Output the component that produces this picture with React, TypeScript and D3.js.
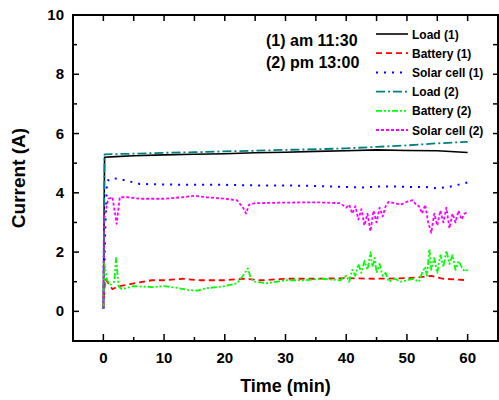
import React from 'react';
import * as d3 from 'd3';

// [time (min), current (A)]
const load1: [number, number][] = [
  [0, 0.1], [0.2, 5.2], [2, 5.22], [5, 5.25], [10, 5.28], [15, 5.3], [20, 5.32], [25, 5.35],
  [30, 5.37], [35, 5.4], [40, 5.42], [45, 5.45], [50, 5.43], [55, 5.42], [60, 5.36],
];
const battery1: [number, number][] = [
  [0, 0.1], [0.3, 1.1], [1, 0.9], [1.5, 0.75], [2.5, 0.85], [4, 0.9], [6, 0.98], [8, 1.05],
  [10, 1.05], [13, 1.1], [16, 1.05], [20, 1.05], [23, 1.1], [26, 1.05], [30, 1.1], [35, 1.1],
  [40, 1.12], [45, 1.1], [50, 1.12], [52, 1.15], [54, 1.2], [56, 1.1], [58, 1.08], [60, 1.05],
];
const solar1: [number, number][] = [
  [0, 0.1], [0.3, 2.7], [0.6, 4.4], [1.5, 4.5], [3, 4.45], [5, 4.35], [6, 4.3], [10, 4.28],
  [15, 4.27], [20, 4.27], [25, 4.25], [30, 4.25], [35, 4.23], [40, 4.2], [43, 4.18], [46, 4.22],
  [50, 4.2], [53, 4.2], [55, 4.15], [57, 4.2], [59, 4.3], [60, 4.35],
];
const load2: [number, number][] = [
  [0, 0.1], [0.2, 5.3], [5, 5.32], [10, 5.35], [15, 5.37], [20, 5.4], [25, 5.42], [30, 5.45],
  [35, 5.47], [40, 5.5], [45, 5.55], [50, 5.6], [55, 5.67], [60, 5.72],
];
const battery2: [number, number][] = [
  [0, 0.1], [0.1, 1.7], [0.6, 1.05], [1.2, 0.9], [1.8, 1.0], [2.1, 1.8], [2.5, 0.85], [3, 0.75],
  [5, 0.85], [8, 0.82], [10, 0.85], [12, 0.8], [14, 0.72], [15.5, 0.7], [17, 0.78], [20, 0.85],
  [22, 0.95], [23, 1.2], [23.8, 1.45], [24.3, 1.1], [25, 1.0], [27, 0.95], [30, 1.05], [33, 1.05],
  [36, 1.1], [39, 1.05], [40, 1.2], [40.5, 1.0], [41, 1.4], [41.5, 1.2], [42, 1.6], [42.5, 1.3],
  [43, 1.7], [43.5, 1.4], [44, 2.0], [44.3, 1.5], [44.7, 1.8], [45, 1.3], [45.5, 1.6], [46, 1.2],
  [46.5, 1.3], [47, 1.0], [48, 1.1], [49, 1.0], [50, 1.05], [51, 1.1], [52, 1.0], [52.5, 1.3],
  [53, 1.5], [53.3, 1.2], [53.7, 2.1], [54, 1.4], [54.5, 1.8], [55, 1.3], [55.5, 1.9], [56, 1.5],
  [56.5, 2.05], [57, 1.6], [57.5, 1.9], [58, 1.4], [58.5, 1.7], [59, 1.5], [59.5, 1.35], [60, 1.4],
];
const solar2: [number, number][] = [
  [0, 0.1], [0.1, 3.1], [0.8, 3.8], [1.5, 3.85], [2.2, 2.95], [2.7, 3.85], [4, 3.85], [6, 3.8],
  [10, 3.8], [13, 3.85], [15, 3.9], [17, 3.85], [20, 3.8], [22, 3.75], [23, 3.5], [23.5, 3.3],
  [24, 3.6], [25, 3.65], [30, 3.67], [35, 3.68], [39, 3.65], [40, 3.5], [40.5, 3.6], [41, 3.3],
  [41.5, 3.55], [42, 3.1], [42.5, 3.45], [43, 2.9], [43.5, 3.3], [44, 2.7], [44.5, 3.4], [45, 3.0],
  [45.5, 3.5], [46, 3.2], [46.5, 3.55], [47, 3.7], [48, 3.65], [49, 3.6], [50, 3.7], [51, 3.75],
  [51.5, 3.6], [52, 3.55], [52.5, 3.3], [53, 3.6], [53.5, 3.0], [54, 2.65], [54.5, 3.3], [55, 2.9],
  [55.5, 3.4], [56, 3.0], [56.5, 3.5], [57, 2.8], [57.5, 3.3], [58, 3.0], [58.5, 3.4], [59, 3.1],
  [59.5, 3.3], [60, 3.35],
];

const seriesNames = ['Load (1)', 'Battery (1)', 'Solar cell (1)', 'Load (2)', 'Battery (2)', 'Solar cell (2)'];
const seriesData = [load1, battery1, solar1, load2, battery2, solar2];
const seriesColors = ['#000000', '#ff0000', '#0000ff', '#008080', '#00ff00', '#ff00ff'];
const seriesDash = ['none', '6,4', '2,6', '9,3,2,3', '6,2,2,2,2,2', '3,2'];
const seriesWidth = [1.6, 1.8, 2, 1.8, 1.8, 1.8];

const xTicks = [0, 10, 20, 30, 40, 50, 60];
const yTicks = [0, 2, 4, 6, 8, 10];
const notes = ['(1) am 11:30', '(2) pm 13:00'];

const W = 499;
const H = 400;
const left = 73, right = 498, top = 15, bottom = 341;
const font = 'Liberation Sans, Arial, sans-serif';

export default function App() {
  const x = d3.scaleLinear().domain([-5, 65]).range([left, right]);
  const y = d3.scaleLinear().domain([-1, 10]).range([bottom, top]);
  const line = d3.line<[number, number]>().x(d => x(d[0])).y(d => y(d[1]));

  const xMinor = d3.range(-5, 66, 5);
  const yMinor = d3.range(-1, 11, 1);

  return (
    <svg width={W} height={H} style={{ position: 'absolute', left: 0, top: 0, background: '#fff' }}>
      {/* data */}
      {seriesData.map((d, i) => (
        <path key={i} d={line(d) || ''} fill="none" stroke={seriesColors[i]}
          strokeWidth={seriesWidth[i]} strokeDasharray={seriesDash[i]} strokeLinejoin="round" />
      ))}

      {/* frame */}
      <rect x={left} y={top} width={right - left} height={bottom - top} fill="none" stroke="#000" strokeWidth={2} />

      {/* bottom + top ticks */}
      {xMinor.map(v => (
        <g key={'xt' + v}>
          <line x1={x(v)} x2={x(v)} y1={bottom} y2={bottom - (v % 10 === 0 ? 7 : 4)} stroke="#000" strokeWidth={1.5} />
          <line x1={x(v)} x2={x(v)} y1={top} y2={top + 6} stroke="#000" strokeWidth={1.5} />
        </g>
      ))}
      {xTicks.map(v => (
        <text key={'xl' + v} x={x(v)} y={bottom + 22} textAnchor="middle" fontFamily={font}
          fontWeight="bold" fontSize={15}>{v}</text>
      ))}

      {/* left + right ticks */}
      {yMinor.map(v => (
        <g key={'yt' + v}>
          <line x1={left} x2={left + (v % 2 === 0 ? 6 : 4)} y1={y(v)} y2={y(v)} stroke="#000" strokeWidth={1.5} />
          <line x1={right} x2={right - 5} y1={y(v)} y2={y(v)} stroke="#000" strokeWidth={1.5} />
        </g>
      ))}
      {yTicks.map(v => (
        <text key={'yl' + v} x={left - 9} y={y(v) + 5} textAnchor="end" fontFamily={font}
          fontWeight="bold" fontSize={15}>{v}</text>
      ))}

      {/* axis titles */}
      <text x={(left + right) / 2} y={392} textAnchor="middle" fontFamily={font} fontWeight="bold" fontSize={18}>
        Time (min)
      </text>
      <text transform={`translate(25,${(top + bottom) / 2}) rotate(-90)`} textAnchor="middle"
        fontFamily={font} fontWeight="bold" fontSize={19}>
        Current (A)
      </text>

      {/* notes */}
      {notes.map((t, i) => (
        <text key={t} x={266} y={46 + i * 22} fontFamily={font} fontWeight="bold" fontSize={16}>{t}</text>
      ))}

      {/* legend */}
      {seriesNames.map((name, i) => {
        const ly = 34 + i * 19.2;
        return (
          <g key={name}>
            <line x1={376} x2={408} y1={ly} y2={ly} stroke={seriesColors[i]} strokeWidth={seriesWidth[i]}
              strokeDasharray={seriesDash[i]} />
            <text x={412} y={ly + 4.5} fontFamily={font} fontWeight="bold" fontSize={12}>{name}</text>
          </g>
        );
      })}
    </svg>
  );
}
